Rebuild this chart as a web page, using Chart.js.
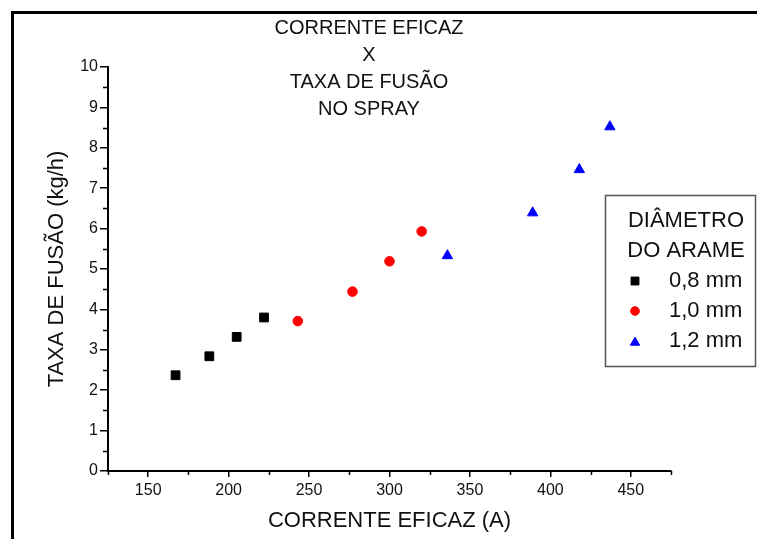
<!DOCTYPE html>
<html>
<head>
<meta charset="utf-8">
<script src="https://cdn.jsdelivr.net/npm/chart.js@4/dist/chart.umd.min.js"></script>
<style>
  body { margin: 0; background: #fff; }
  #wrap { width: 757px; height: 539px; }
</style>
</head>
<body>
<div id="wrap"><canvas id="chart" width="757" height="539"></canvas></div>
<script>
// Data
const seriesLabels = ['0,8 mm', '1,0 mm', '1,2 mm'];
const current08 = [167, 188, 205, 222];
const rate08 = [2.37, 2.84, 3.32, 3.80];
const current10 = [243, 277, 300, 320];
const rate10 = [3.71, 4.44, 5.19, 5.93];
const current12 = [336, 389, 418, 437];
const rate12 = [5.33, 6.39, 7.46, 8.52];

const xMajorTicks = [150, 200, 250, 300, 350, 400, 450];
const xMinorTicks = [125, 175, 225, 275, 325, 375, 425, 475];
const yMajorTicks = [0, 1, 2, 3, 4, 5, 6, 7, 8, 9, 10];
const yMinorTicks = [0.5, 1.5, 2.5, 3.5, 4.5, 5.5, 6.5, 7.5, 8.5, 9.5];

const titleLines = ['CORRENTE EFICAZ', 'X', 'TAXA DE FUSÃO', 'NO SPRAY'];
const legendTitle = ['DIÂMETRO', 'DO ARAME'];

const FONT = '"Liberation Sans", Arial, sans-serif';

function toPoints(xs, ys) {
  return xs.map((x, i) => ({ x: x, y: ys[i] }));
}

// frame, title, minor ticks and the boxed legend
const decorations = {
  id: 'decorations',
  beforeDraw(chart) {
    const ctx = chart.ctx;
    ctx.save();
    ctx.strokeStyle = '#000';
    ctx.lineWidth = 3;
    ctx.beginPath();
    ctx.moveTo(12.5, 539);
    ctx.lineTo(12.5, 12.5);
    ctx.lineTo(757, 12.5);
    ctx.stroke();

    ctx.fillStyle = '#111';
    ctx.font = '20px ' + FONT;
    ctx.textAlign = 'center';
    ctx.textBaseline = 'middle';
    titleLines.forEach((t, i) => ctx.fillText(t, 369, 28 + i * 27.3));
    ctx.restore();
  },
  afterDraw(chart) {
    const ctx = chart.ctx;
    const xs = chart.scales.x, ys = chart.scales.y;
    ctx.save();
    ctx.strokeStyle = '#000';
    ctx.lineWidth = 1.5;
    ctx.beginPath();
    xMinorTicks.forEach(v => {
      const px = Math.round(xs.getPixelForValue(v)) + 0.5;
      ctx.moveTo(px, xs.top);
      ctx.lineTo(px, xs.top + 4);
    });
    yMinorTicks.forEach(v => {
      const py = Math.round(ys.getPixelForValue(v)) + 0.5;
      ctx.moveTo(ys.right, py);
      ctx.lineTo(ys.right - 5, py);
    });
    ctx.stroke();

    // legend box
    ctx.fillStyle = '#fff';
    ctx.fillRect(605, 195, 151, 172);
    ctx.strokeStyle = '#555';
    ctx.lineWidth = 1.5;
    ctx.strokeRect(605.5, 195.5, 150, 171);
    ctx.fillStyle = '#111';
    ctx.font = '22px ' + FONT;
    ctx.textAlign = 'center';
    ctx.textBaseline = 'middle';
    legendTitle.forEach((t, i) => ctx.fillText(t, 686, 221 + i * 29.5));
    ctx.textAlign = 'left';
    chart.data.datasets.forEach((ds, i) => {
      const y = 281 + i * 30;
      ctx.fillStyle = ds.backgroundColor;
      ctx.strokeStyle = ds.borderColor;
      ctx.lineWidth = ds.borderWidth;
      Chart.helpers.drawPoint(ctx, {
        pointStyle: ds.pointStyle, radius: ds.pointRadius * 0.9, borderWidth: ds.borderWidth, rotation: 0
      }, 635, ds.pointStyle === 'triangle' ? y + 1.5 : y);
      ctx.fillStyle = '#111';
      ctx.fillText(ds.label, 669, y);
    });
    ctx.restore();
  }
};

const ctx = document.getElementById('chart').getContext('2d');
new Chart(ctx, {
  type: 'scatter',
  data: {
    datasets: [
      { label: seriesLabels[0], data: toPoints(current08, rate08), pointStyle: 'rect', pointRadius: 6.2,
        backgroundColor: '#000', borderColor: '#000', borderWidth: 1 },
      { label: seriesLabels[1], data: toPoints(current10, rate10), pointStyle: 'circle', pointRadius: 4.8,
        backgroundColor: '#ff0000', borderColor: '#ff0000', borderWidth: 1 },
      { label: seriesLabels[2], data: toPoints(current12, rate12), pointStyle: 'triangle', pointRadius: 6,
        backgroundColor: '#0000ff', borderColor: '#0000ff', borderWidth: 1 }
    ]
  },
  options: {
    responsive: false,
    devicePixelRatio: 1,
    animation: false,
    layout: { padding: { left: 0, top: 67, right: 86, bottom: 0 } },
    plugins: { legend: { display: false }, title: { display: false }, tooltip: { enabled: false } },
    scales: {
      x: {
        type: 'linear',
        min: 125,
        max: 475,
        afterFit: s => { s.height = 68; },
        afterBuildTicks: s => { s.ticks = xMajorTicks.map(v => ({ value: v })); },
        grid: { drawOnChartArea: false, drawTicks: true, tickLength: 6, color: '#000', lineWidth: 1.5 },
        border: { display: true, color: '#000', width: 2 },
        ticks: { color: '#111', font: { family: FONT, size: 16 }, padding: 4, maxRotation: 0 },
        title: { display: true, text: 'CORRENTE EFICAZ (A)', color: '#111',
                 font: { family: FONT, size: 22 }, padding: { top: 0, bottom: 5 } }
      },
      y: {
        type: 'linear',
        min: 0,
        max: 10,
        afterFit: s => { s.width = 108; },
        afterBuildTicks: s => { s.ticks = yMajorTicks.map(v => ({ value: v })); },
        grid: { drawOnChartArea: false, drawTicks: true, tickLength: 8, color: '#000', lineWidth: 1.5 },
        border: { display: true, color: '#000', width: 2 },
        ticks: { color: '#111', font: { family: FONT, size: 16 }, padding: 2 },
        title: { display: true, text: 'TAXA DE FUSÃO (kg/h)', color: '#111',
                 font: { family: FONT, size: 22 }, padding: { top: 44, bottom: 0 } }
      }
    }
  },
  plugins: [decorations]
});
</script>
</body>
</html>
